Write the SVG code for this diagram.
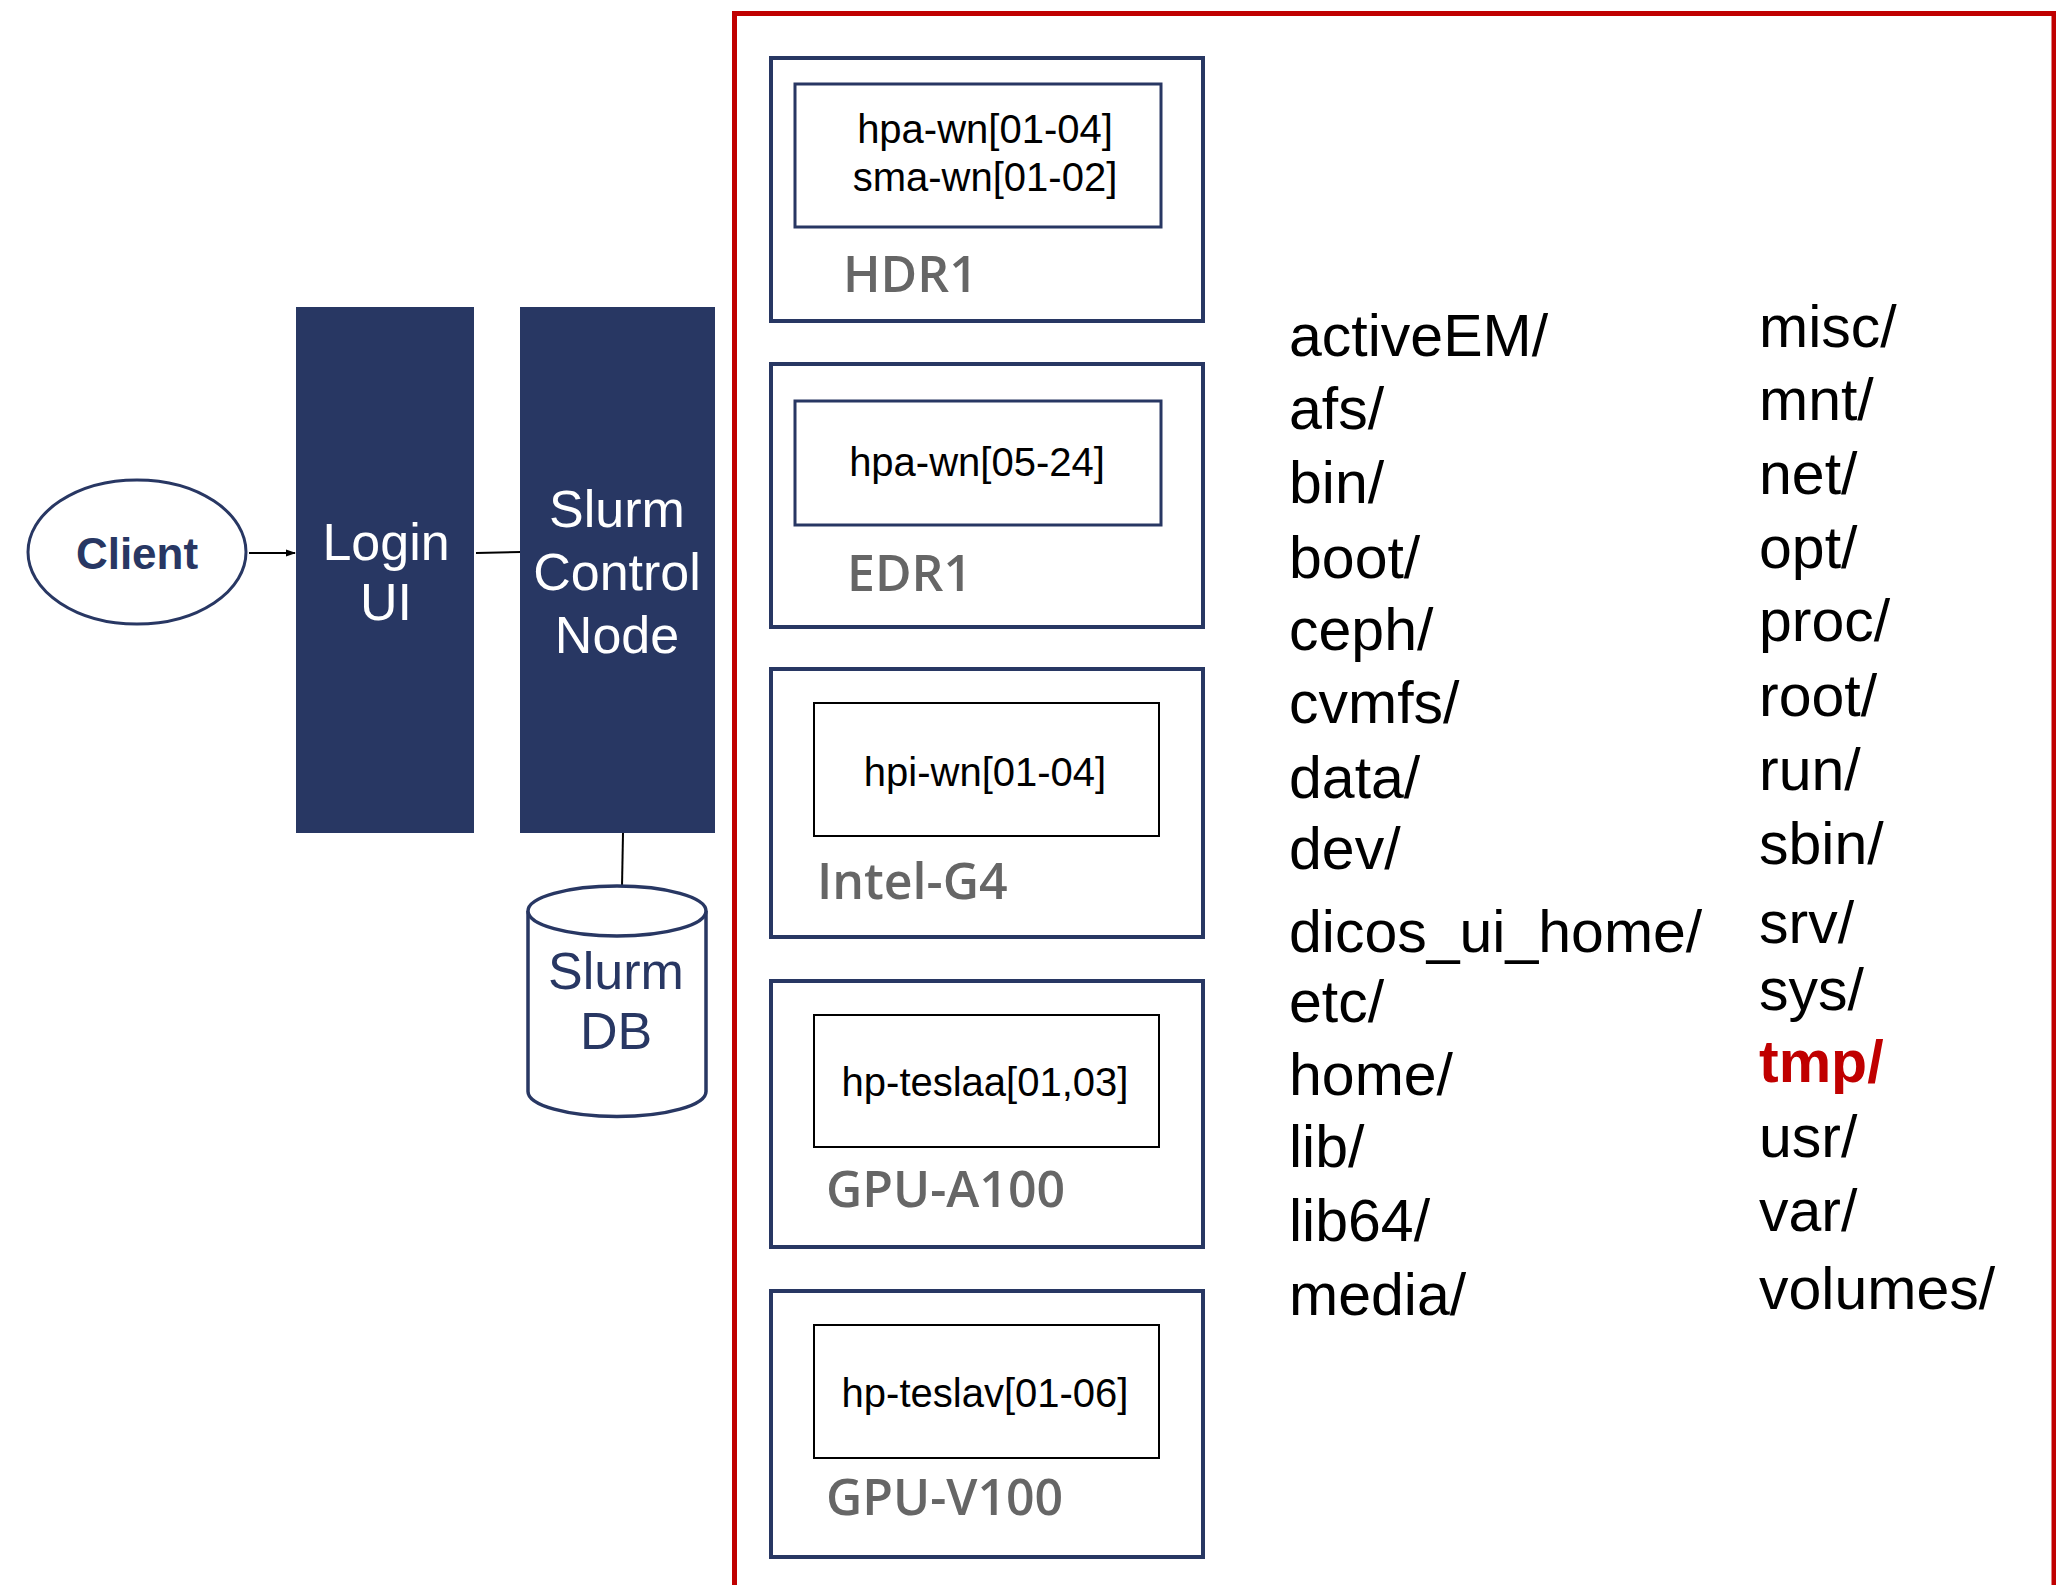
<svg xmlns="http://www.w3.org/2000/svg" width="2056" height="1585" viewBox="0 0 2056 1585">
<style>
.navyfill{fill:#283763}
.outer{fill:none;stroke:#283763;stroke-width:4}
.innerN{fill:#ffffff;stroke:#283763;stroke-width:3}
.innerK{fill:#ffffff;stroke:#000000;stroke-width:2}
.host{font-family:"Liberation Sans",Arial,sans-serif;font-size:40px;fill:#000;text-anchor:middle}
.grp{font-family:"Open Sans","DejaVu Sans",sans-serif;font-size:50px;font-weight:600;fill:#666666}
.wht{font-family:"Liberation Sans",Arial,sans-serif;font-size:52px;fill:#ffffff;text-anchor:middle}
.nvt{font-family:"Liberation Sans",Arial,sans-serif;font-size:52px;fill:#283763;text-anchor:middle}
.dir{font-family:"Liberation Sans",Arial,sans-serif;font-size:59px;fill:#000}
.conn{stroke:#000;stroke-width:2;fill:none}
</style>
<defs>
<marker id="arr" markerWidth="10" markerHeight="10" refX="9" refY="5" orient="auto" markerUnits="userSpaceOnUse">
<path d="M0,1.5 L10,5 L0,8.5 z" fill="#000"/>
</marker>
</defs>
<rect x="0" y="0" width="2056" height="1585" fill="#ffffff"/>

<g id="frame">
<path d="M734.5 1600 V13.5 H2054 V1600" fill="none" stroke="#c00000" stroke-width="5"/>
</g>

<g id="connectors">
<line class="conn" x1="249" y1="553" x2="295" y2="553" marker-end="url(#arr)"/>
<line class="conn" x1="476" y1="553" x2="521" y2="552"/>
<line class="conn" x1="623" y1="833" x2="622" y2="887"/>
</g>

<g id="client">
<ellipse cx="137" cy="552" rx="109" ry="72" fill="#ffffff" stroke="#283763" stroke-width="3"/>
<text x="137" y="569" font-family="Liberation Sans,Arial,sans-serif" font-size="44" font-weight="bold" fill="#283763" text-anchor="middle">Client</text>
</g>

<g id="login-ui">
<rect class="navyfill" x="296" y="307" width="178" height="526"/>
<text class="wht" x="386" y="560">Login</text>
<text class="wht" x="386" y="620">UI</text>
</g>

<g id="slurm-control">
<rect class="navyfill" x="520" y="307" width="195" height="526"/>
<text class="wht" x="617" y="527">Slurm</text>
<text class="wht" x="617" y="590">Control</text>
<text class="wht" x="617" y="653">Node</text>
</g>

<g id="slurm-db">
<path d="M528 911 V1091.5 A89 25 0 0 0 706 1091.5 V911" fill="#ffffff" stroke="#283763" stroke-width="3.5"/>
<ellipse cx="617" cy="911" rx="89" ry="25" fill="#ffffff" stroke="#283763" stroke-width="3.5"/>
<text class="nvt" x="616" y="989">Slurm</text>
<text class="nvt" x="616" y="1049">DB</text>
</g>

<g id="hdr1">
<rect class="outer" x="771" y="58" width="432" height="263"/>
<rect class="innerN" x="795" y="84" width="366" height="143"/>
<text class="host" x="985" y="143">hpa-wn[01-04]</text>
<text class="host" x="985" y="191">sma-wn[01-02]</text>
<text class="grp" x="843" y="292">HDR1</text>
</g>

<g id="edr1">
<rect class="outer" x="771" y="364" width="432" height="263"/>
<rect class="innerN" x="795" y="401" width="366" height="124"/>
<text class="host" x="977" y="476">hpa-wn[05-24]</text>
<text class="grp" x="847" y="591">EDR1</text>
</g>

<g id="intel-g4">
<rect class="outer" x="771" y="669" width="432" height="268"/>
<rect class="innerK" x="814" y="703" width="345" height="133"/>
<text class="host" x="985" y="786">hpi-wn[01-04]</text>
<text class="grp" x="817" y="899">Intel-G4</text>
</g>

<g id="gpu-a100">
<rect class="outer" x="771" y="981" width="432" height="266"/>
<rect class="innerK" x="814" y="1015" width="345" height="132"/>
<text class="host" x="985" y="1096">hp-teslaa[01,03]</text>
<text class="grp" x="826" y="1207">GPU-A100</text>
</g>

<g id="gpu-v100">
<rect class="outer" x="771" y="1291" width="432" height="266"/>
<rect class="innerK" x="814" y="1325" width="345" height="133"/>
<text class="host" x="985" y="1407">hp-teslav[01-06]</text>
<text class="grp" x="826" y="1515">GPU-V100</text>
</g>

<g id="dirs-left">
<text class="dir" x="1289" y="356">activeEM/</text>
<text class="dir" x="1289" y="429">afs/</text>
<text class="dir" x="1289" y="503">bin/</text>
<text class="dir" x="1289" y="578">boot/</text>
<text class="dir" x="1289" y="650">ceph/</text>
<text class="dir" x="1289" y="723">cvmfs/</text>
<text class="dir" x="1289" y="798">data/</text>
<text class="dir" x="1289" y="869">dev/</text>
<text class="dir" x="1289" y="952">dicos_ui_home/</text>
<text class="dir" x="1289" y="1022">etc/</text>
<text class="dir" x="1289" y="1095">home/</text>
<text class="dir" x="1289" y="1167">lib/</text>
<text class="dir" x="1289" y="1241">lib64/</text>
<text class="dir" x="1289" y="1315">media/</text>
</g>

<g id="dirs-right">
<text class="dir" x="1759" y="347">misc/</text>
<text class="dir" x="1759" y="420">mnt/</text>
<text class="dir" x="1759" y="494">net/</text>
<text class="dir" x="1759" y="568">opt/</text>
<text class="dir" x="1759" y="641">proc/</text>
<text class="dir" x="1759" y="716">root/</text>
<text class="dir" x="1759" y="790">run/</text>
<text class="dir" x="1759" y="864">sbin/</text>
<text class="dir" x="1759" y="943">srv/</text>
<text class="dir" x="1759" y="1010">sys/</text>
<text class="dir" x="1759" y="1082" font-weight="bold" style="fill:#c00000">tmp/</text>
<text class="dir" x="1759" y="1157">usr/</text>
<text class="dir" x="1759" y="1231">var/</text>
<text class="dir" x="1759" y="1309">volumes/</text>
</g>
</svg>
